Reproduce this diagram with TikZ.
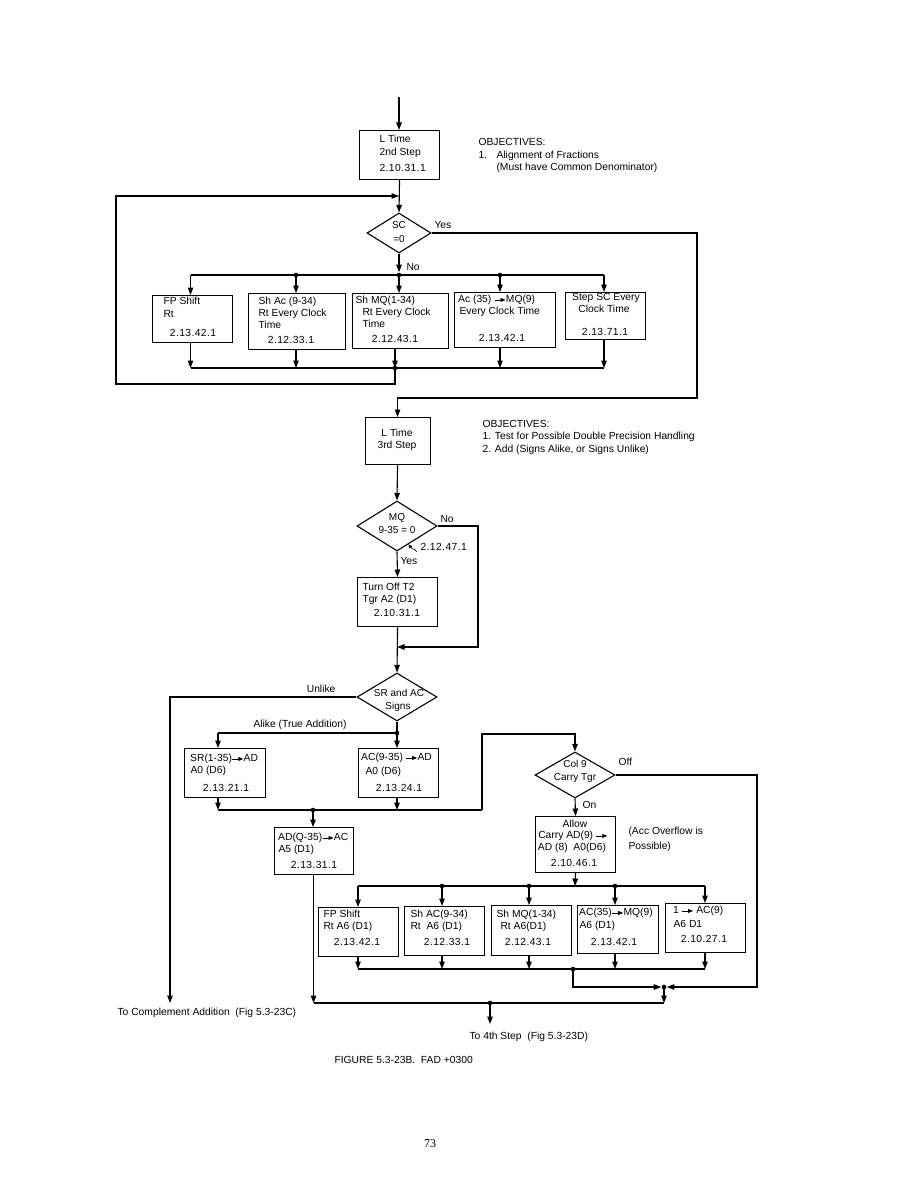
\documentclass[tikz,border=0pt]{standalone}
\usepackage{fontspec}
\setmainfont{Liberation Sans}
\newfontfamily\numf[LetterSpace=4]{Liberation Sans}
\newfontfamily\serf{Liberation Serif}
\usetikzlibrary{arrows.meta,shapes.geometric,calc}
\newcommand\arw{\tikz[baseline=-2.7pt]{\draw[line width=0.7pt,-{Triangle[length=5pt,width=3.8pt]}] (0pt,0pt)--(11pt,0pt);}}
\newcommand\bx[5]{\node[box,anchor=north west,minimum width={(#4)-(#2)},minimum height={(#5)-(#3)}] (#1) at (#2,#3) {};}
\newcommand\tl[4]{\node[txt,anchor=mid west] (#1) at (#2,#3) {#4};}
\newcommand\tc[4]{\node[txt,anchor=mid] (#1) at (#2,#3) {#4};}
\newcommand\td[4]{\node[dtx,anchor=mid] (#1) at (#2,#3) {#4};}
\newcommand\tn[4]{\node[txt,anchor=mid] (#1) at (#2,#3) {\numf #4};}
\begin{document}
\begin{tikzpicture}[x=1pt,y=-1pt,line width=1.1pt,
 box/.style={draw,rectangle,inner sep=0pt,line width=1.1pt},
 dia/.style={draw,diamond,inner sep=0pt,line width=1.1pt},
 arr/.style={-{Triangle[length=7.5pt,width=5.5pt]}},
 jdot/.style={circle,fill,inner sep=0pt,minimum size=4.6pt},
 txt/.style={inner sep=0pt,font=\fontsize{10.3}{12}\selectfont},
 dtx/.style={inner sep=0pt,font=\fontsize{10}{11}\selectfont}]
\fill[white] (0,0) rectangle (918,1188);
% ---------- top ----------
\coordinate (s0) at (399,97);
\bx{l2}{359}{130}{439}{179}
\tl{l2a}{379}{140}{L Time}
\tl{l2b}{379}{153}{2nd Step}
\node[txt,anchor=mid west] (l2c) at (379,169) {\numf 2.10.31.1};
\draw[arr] (s0) -- (s0 |- l2.north);
\node[dia,minimum width=64,minimum height=40] (d1) at (399,233) {};
\td{d1a}{399}{226}{SC}
\td{d1b}{399}{240}{=0}
\draw[arr] (l2.south) -- (d1.north);
\coordinate (lp) at (399,196);
\tl{yes1}{434}{226}{Yes}
\tl{o1}{478}{143}{OBJECTIVES:}
\tl{o2}{478}{156}{1.}
\tl{o3}{496}{156}{Alignment of Fractions}
\tl{o4}{496}{168}{(Must have Common Denominator)}
% row 1 boxes
\bx{b11}{152}{295}{232}{342}
\bx{b12}{248}{293}{345}{349}
\bx{b13}{352}{293}{448}{348}
\bx{b14}{454}{292}{555}{347}
\bx{b15}{565}{292}{645}{339}
\tl{b11a}{163}{302}{FP Shift}
\tl{b11b}{163}{315}{Rt}
\tn{b11c}{193}{334}{2.13.42.1}
\tl{b12a}{258}{302}{Sh Ac (9-34)}
\tl{b12b}{258}{314}{Rt Every Clock}
\tl{b12c}{258}{326}{Time}
\tn{b12d}{291}{341}{2.12.33.1}
\tl{b13a}{355}{301}{Sh MQ(1-34)}
\tl{b13b}{362}{313}{Rt Every Clock}
\tl{b13c}{362}{325}{Time}
\tn{b13d}{395}{340}{2.12.43.1}
\tl{b14a}{458}{300}{Ac (35) \arw MQ(9)}
\tl{b14b}{459}{312}{Every Clock Time}
\tn{b14c}{502}{339}{2.13.42.1}
\tc{b15a}{606}{298}{Step SC Every}
\tc{b15b}{604}{310}{Clock Time}
\tn{b15c}{605}{333}{2.13.71.1}
% bus 1
\coordinate (n0) at (190.5,275);
\node[jdot] (n2) at (296,275) {};
\node[jdot] (n3) at (399,275) {};
\node[jdot] (n4) at (500,275) {};
\coordinate (n5) at (604,275);
\draw[arr] (d1.south) -- (n3);
\tl{no1}{406}{268}{No}
\draw (n0) -- (n5);
\draw[arr] (n0) -- (n0 |- b11.north);
\draw[arr] (n2.center) -- (n2 |- b12.north);
\draw[arr] (n3.center) -- (n3 |- b13.north);
\draw[arr] (n4.center) -- (n4 |- b14.north);
\draw[arr] (n5) -- (n5 |- b15.north);
\coordinate (m1) at (190.5,368);
\coordinate (m2) at (296,368);
\node[jdot] (m3) at (395,368) {};
\coordinate (m4) at (500,368);
\coordinate (m5) at (604,368);
\draw (m1) -- (m5);
\draw[arr] (m1 |- b11.south) -- (m1);
\draw[arr] (m2 |- b12.south) -- (m2);
\draw[arr] (m3 |- b13.south) -- (m3.center);
\draw[arr] (m4 |- b14.south) -- (m4);
\draw[arr] (m5 |- b15.south) -- (m5);
\draw[arr] (m3.center) -- (395,384) -- (116,384) -- (116,196) -- (lp);
% ---------- middle ----------
\bx{l3}{364.5}{417}{429.5}{464}
\tc{l3a}{397}{434}{L Time}
\tc{l3b}{397}{446}{3rd Step}
\draw[arr] (d1.east) -- (697,233) -- (697,398) -| (l3.north);
\tl{p1}{482}{425}{OBJECTIVES:}
\tl{p2}{482}{437}{1. Test for Possible Double Precision Handling}
\tl{p3}{482}{450}{2. Add (Signs Alike, or Signs Unlike)}
\node[dia,minimum width=80,minimum height=50] (d2) at (397,526) {};
\td{d2a}{397}{518}{MQ}
\td{d2b}{397}{531}{9-35 = 0}
\draw[arr] (l3.south) -- (d2.north);
\coordinate (mj) at (397,647);
\draw[arr] (d2.east) -- (478,526) -- (478,647) -- (mj);
\tl{no2}{440}{520}{No}
\bx{t2}{357}{577}{437}{626}
\draw[arr] (d2.south) -- (t2.north);
\tl{yes2}{400}{562}{Yes}
\tl{t2a}{362}{588}{Turn Off T2}
\tl{t2b}{362}{600}{Tgr A2 (D1)}
\tn{t2c}{397}{614}{2.10.31.1}
\node[txt,anchor=mid west] (ref1) at (420,548) {\numf 2.12.47.1};
\coordinate (rp) at ($(d2.east)!0.72!(d2.south)$);
\draw[-{Triangle[length=4pt,width=3.2pt]},line width=0.6pt] (417,552) .. controls (413,547) and (414,551) .. (rp);
% SR and AC
\node[dia,minimum width=80,minimum height=48] (d3) at (397,697) {};
\draw[arr] (t2.south) -- (d3.north);
\td{d3a}{399}{694}{SR and AC}
\td{d3b}{398}{707}{Signs}
\coordinate (ue) at (170,1003);
\draw[arr] (d3.west) -- (170,697) -- (ue);
\node[txt,anchor=mid east] (unl) at (336,690) {Unlike};
\node[jdot] (a1) at (397,733) {};
\coordinate (a0) at (218,733);
\draw (d3.south) -- (a1.center);
\draw (a0) -- (a1.center);
\tl{alk}{253}{725}{Alike (True Addition)}
\bx{sr}{184}{748}{265}{797}
\bx{ac}{358}{748}{438}{797}
\draw[arr] (a0) -- (a0 |- sr.north);
\draw[arr] (a1.center) -- (a1 |- ac.north);
\tl{sra}{190}{759}{SR(1-35)\arw AD}
\tl{srb}{190}{771}{A0 (D6)}
\tn{src}{226}{789}{2.13.21.1}
\tl{aca}{361}{758}{AC(9-35) \arw AD}
\tl{acb}{365}{772}{A0 (D6)}
\tn{acc}{399}{789}{2.13.24.1}
% Col 9
\node[dia,minimum width=80,minimum height=46] (d4) at (575,775) {};
\td{d4a}{575}{765}{Col 9}
\td{d4b}{575}{778}{Carry Tgr}
\tl{off}{618}{763}{Off}
\coordinate (e0) at (218,810);
\node[jdot] (e1) at (313,810) {};
\coordinate (e2) at (397,810);
\coordinate (e3) at (482,810);
\draw[arr] (e0 |- sr.south) -- (e0);
\draw[arr] (e2 |- ac.south) -- (e2);
\draw (e0) -- (e3);
\draw[arr] (e3) -- (482,734) -| (d4.north);
\bx{ad}{273.5}{827}{352.5}{874}
\draw[arr] (e1.center) -- (e1 |- ad.north);
\tl{ada}{278}{838}{AD(Q-35)\arw AC}
\tl{adb}{278}{850}{A5 (D1)}
\tn{adc}{314}{866}{2.13.31.1}
\bx{al}{535}{816}{615}{872}
\draw[arr] (d4.south) -- (al.north);
\tl{on}{582}{806}{On}
\tc{al1}{575}{825}{Allow}
\tc{al2}{573}{836}{Carry AD(9) \arw}
\tc{al3}{572}{848}{AD (8)\ \ A0(D6)}
\tn{al4}{574}{864}{2.10.46.1}
\tl{ov1}{628}{832}{(Acc Overflow is}
\tl{ov2}{628}{847}{Possible)}
% row 2
\bx{r1}{318}{907}{398}{956}
\bx{r2}{404}{906}{484}{955}
\bx{r3}{491}{905}{571}{955}
\bx{r4}{577}{905}{658}{953}
\bx{r5}{665}{903}{745}{952}
\tl{r1a}{323}{915}{FP Shift}
\tl{r1b}{323}{927}{Rt A6 (D1)}
\tn{r1c}{357}{943}{2.13.42.1}
\tl{r2a}{410}{915}{Sh AC(9-34)}
\tl{r2b}{410}{927}{Rt\ \ A6 (D1)}
\tn{r2c}{447}{943}{2.12.33.1}
\tl{r3a}{496}{915}{Sh MQ(1-34)}
\tl{r3b}{500}{927}{Rt A6(D1)}
\tn{r3c}{528}{943}{2.12.43.1}
\tl{r4a}{579}{913}{AC(35)\arw MQ(9)}
\tl{r4b}{579}{926}{A6 (D1)}
\tn{r4c}{614}{943}{2.13.42.1}
\tl{r5a}{673}{911}{1 \arw\ AC(9)}
\tl{r5b}{673}{925}{A6 D1}
\tn{r5c}{704}{940}{2.10.27.1}
\coordinate (f1) at (358,886);
\node[jdot] (f2) at (442,886) {};
\coordinate (f3) at (575,886);
\node[jdot] (f4) at (529,886) {};
\node[jdot] (f5) at (615,886) {};
\coordinate (f6) at (705,886);
\draw[arr] (al.south) -- (f3);
\draw (f1) -- (f6);
\draw[arr] (f1) -- (f1 |- r1.north);
\draw[arr] (f2.center) -- (f2 |- r2.north);
\draw[arr] (f4.center) -- (f4 |- r3.north);
\draw[arr] (f5.center) -- (f5 |- r4.north);
\draw[arr] (f6) -- (f6 |- r5.north);
\coordinate (g1) at (358,969);
\coordinate (g2) at (442,969);
\coordinate (g3) at (529,969);
\coordinate (g4) at (615,969);
\coordinate (g5) at (705,969);
\node[jdot] (gd) at (573,969) {};
\draw[arr] (g1 |- r1.south) -- (g1);
\draw[arr] (g2 |- r2.south) -- (g2);
\draw[arr] (g3 |- r3.south) -- (g3);
\draw[arr] (g4 |- r4.south) -- (g4);
\draw[arr] (g5 |- r5.south) -- (g5);
\draw (g1) -- (g5);
\node[jdot] (jn) at (664,987) {};
\draw[arr] (gd.center) -- (573,987) -- (jn);
\draw[arr] (d4.east) -- (757,775) -- (757,987) -- (jn);
\node[jdot] (hb) at (490,1003) {};
\coordinate (h2) at (664,1003);
\draw[arr] (ad.south) -- (ad.south |- hb);
\draw (ad.south |- hb) -- (h2);
\draw[arr] (jn.center) -- (h2);
\coordinate (he) at (490,1024);
\draw[arr] (hb.center) -- (he);
% captions
\tl{cap1}{117}{1013}{To Complement Addition\ \ (Fig 5.3-23C)}
\tl{cap2}{469}{1037}{To 4th Step\ \ (Fig 5.3-23D)}
\tl{cap3}{334}{1061}{FIGURE 5.3-23B.\ \ FAD +0300}
\node[inner sep=0pt,font=\serf\fontsize{12}{14}\selectfont] (pg) at (430,1144) {73};
\end{tikzpicture}
\end{document}
